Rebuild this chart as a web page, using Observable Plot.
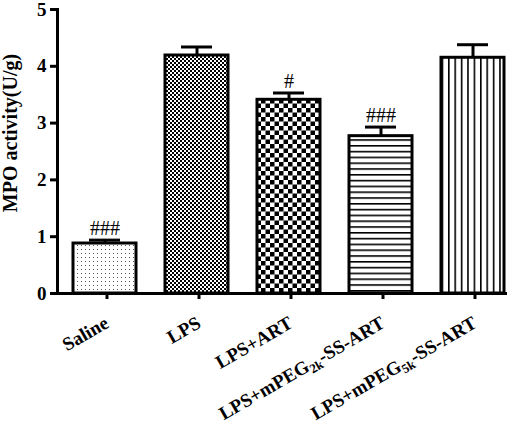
<!DOCTYPE html>
<html><head><meta charset="utf-8">
<script src="https://cdn.jsdelivr.net/npm/d3@7"></script>
<script src="https://cdn.jsdelivr.net/npm/@observablehq/plot@0.6"></script>
<style>body{margin:0;background:#fff}</style>
</head><body><div id="chart"></div>
<script>
// ---- data ----
const categories = ["Saline", "LPS", "LPS+ART", "LPS+mPEG2k-SS-ART", "LPS+mPEG5k-SS-ART"];
const means = [0.88, 4.19, 3.41, 2.77, 4.15];
const sems = [0.06, 0.15, 0.12, 0.16, 0.23];
const sigLabels = ["###", "", "#", "###", ""];
const yTicks = [0, 1, 2, 3, 4, 5];
const yLabel = "MPO activity(U/g)";
// ---- styles ----
const patternIds = ["pDots", "pFine", "pCheck", "pHLines", "pVLines"];

const data = categories.map((c, i) => ({
  cat: c, mean: means[i], top: means[i] + sems[i], sig: sigLabels[i],
  fill: `url(#${patternIds[i]})`
}));

const font = "'Liberation Serif','Times New Roman',serif";
const plot = Plot.plot({
  width: 526, height: 424,
  marginLeft: 57, marginRight: 5, marginTop: 9, marginBottom: 131,
  style: {fontFamily: font, background: "white", overflow: "visible"},
  x: {domain: categories, paddingInner: 0.31, paddingOuter: 0.155},
  y: {domain: [0, 5]},
  color: {type: "identity"},
  marks: [
    Plot.barY(data, {x: "cat", y: "mean", fill: "fill", stroke: "black", strokeWidth: 3}),
    Plot.ruleX(data, {x: "cat", y1: "mean", y2: "top", stroke: "black", strokeWidth: 3}),
    Plot.tickY(data, {x: "cat", y: "top", stroke: "black", strokeWidth: 3, insetLeft: 16, insetRight: 16}),
    Plot.text(data, {x: "cat", y: "top", text: "sig", dy: -5, lineAnchor: "bottom", fontSize: 20}),
    Plot.axisY({ticks: yTicks, tickFormat: "d", tickSize: 7, strokeWidth: 3, tickPadding: 4, fontSize: 19, fontWeight: "bold", label: null}),
    Plot.axisX({tickSize: 6, strokeWidth: 3, tickRotate: -30, tickPadding: 22, dx: 2,
      fontSize: 19, fontWeight: "bold", label: null}),
    Plot.ruleY([0], {strokeWidth: 3, insetRight: 14}),
    Plot.frame({anchor: "left", strokeWidth: 3})
  ]
});
document.getElementById("chart").append(plot);

const svg = d3.select(plot);
// patterns
const defs = svg.insert("defs", ":first-child");
function pat(id, w, h) {
  const p = defs.append("pattern").attr("id", id).attr("patternUnits", "userSpaceOnUse")
    .attr("width", w).attr("height", h);
  p.append("rect").attr("width", w).attr("height", h).attr("fill", "white");
  return p;
}
pat("pDots", 4, 4).append("rect").attr("x", 1).attr("y", 1).attr("width", 1).attr("height", 1).attr("fill", "#555");
const f = pat("pFine", 4, 4);
f.append("rect").attr("x", 0).attr("y", 0).attr("width", 2).attr("height", 2).attr("fill", "black");
f.append("rect").attr("x", 2).attr("y", 2).attr("width", 2).attr("height", 2).attr("fill", "black");
const c = pat("pCheck", 9, 9);
c.append("rect").attr("x", 0).attr("y", 0).attr("width", 4.5).attr("height", 4.5).attr("fill", "black");
c.append("rect").attr("x", 4.5).attr("y", 4.5).attr("width", 4.5).attr("height", 4.5).attr("fill", "black");
pat("pHLines", 6, 5.8).append("rect").attr("x", 0).attr("y", 0).attr("width", 6).attr("height", 1.6).attr("fill", "black");
pat("pVLines", 6.4, 6).append("rect").attr("x", 0).attr("y", 0).attr("width", 1.6).attr("height", 6).attr("fill", "black");

// subscripts
svg.selectAll("text").each(function() {
  const t = this.textContent;
  const m = t.match(/^(.*mPEG)(\d+k)(-.*)$/);
  if (m && this.children.length === 0) {
    const el = d3.select(this);
    el.text(null);
    el.append("tspan").text(m[1]);
    el.append("tspan").attr("dy", 4).attr("font-size", 13).text(m[2]);
    el.append("tspan").attr("dy", -4).text(m[3]);
  }
});

// y label
svg.append("text")
  .attr("transform", "translate(17,133) rotate(-90)")
  .attr("text-anchor", "middle")
  .attr("font-family", font).attr("font-weight", "bold").attr("font-size", 20)
  .attr("fill", "black")
  .text(yLabel);
</script>
</body></html>
